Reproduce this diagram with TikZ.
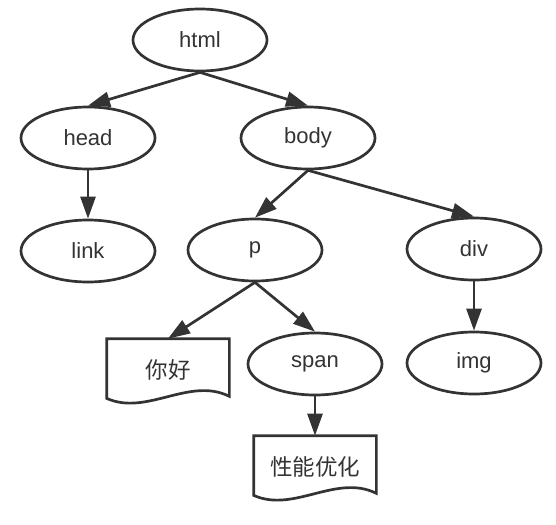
\documentclass[tikz,border=0pt]{standalone}
\usepackage{fontspec}
\setmainfont{Liberation Sans}
\newfontfamily\cjk{Noto Sans CJK SC}
\usetikzlibrary{arrows.meta,shapes.geometric,positioning}
\definecolor{ink}{HTML}{333333}

\tikzset{
  tag/.style={ellipse,draw,minimum width=134pt,minimum height=62pt,inner sep=0pt,font=\fontsize{22}{26}\selectfont},
  paper/.style={minimum width=120pt,minimum height=60pt,inner sep=0pt,font=\cjk\fontsize{22.5}{26}\selectfont},
}
% page with a wavy bottom edge
\newcommand{\wavybox}[1]{\draw[-,line join=miter](#1.north west)--(#1.north east)--([yshift=5pt]#1.south east)
  .. controls +(-40pt,20pt) and +(40pt,-18pt) .. ([yshift=3pt]#1.south west)--cycle;}

\begin{document}
\begin{tikzpicture}[-{Triangle[length=22pt,width=15pt]},line width=2.7pt,color=ink,node distance=113pt,x=1pt,y=-1pt]
\useasboundingbox (0,0) rectangle (556,524);

\node[tag](html) at (200,40){html};
\node[tag](head) at (88,138){head};
\node[tag](body) at (308,138){body};
\node[tag](link)[below of=head]{link};
\node[tag](p) at (255,250){p};
\node[tag](div) at (474,249){div};
\node[tag](span) at (315,364){span};
\node[tag](img)[below of=div,node distance=114pt]{img};
\node[paper](hello) at (168,370){你好};
\node[paper](perf) at (315,467){性能优化};

\wavybox{hello}
\wavybox{perf}

\path(html.south)edge(head.north)
	(html.south)edge(body.north)
	(head.south)edge(link.north)
	(body.south)edge(p.north)
	(body.south)edge(div.north)
	(p.south)edge(hello.north)
	(p.south)edge(span.north)
	(span.south)edge(perf.north)
	(div.south)edge(img.north);

\end{tikzpicture}
\end{document}
